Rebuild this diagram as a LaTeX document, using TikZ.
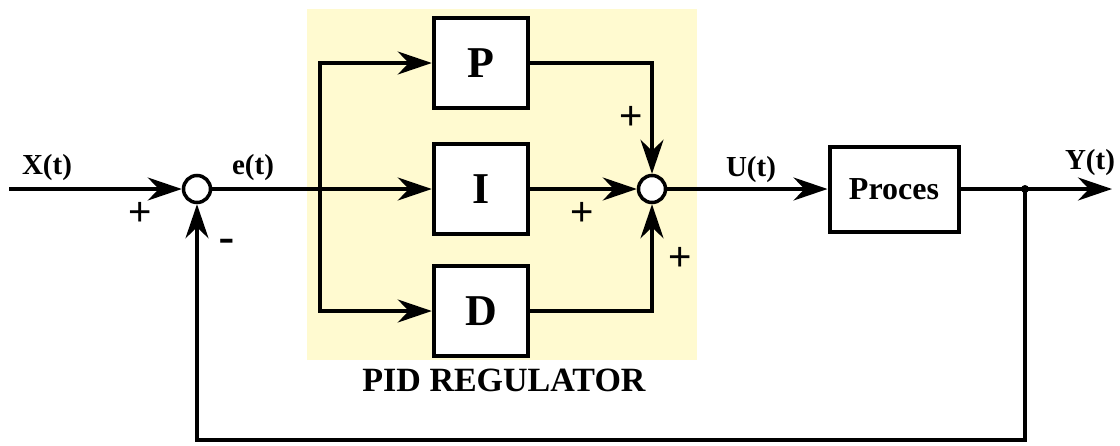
\documentclass[tikz,border=0pt]{standalone}
\usepackage{fontspec}
\setmainfont{Liberation Serif}
\newfontfamily\signfont{Liberation Sans}
\usetikzlibrary{arrows.meta}
\definecolor{pidyellow}{RGB}{255,250,208}
\begin{document}
\begin{tikzpicture}[x=1pt,y=-1pt, line width=3.5pt,
 blk/.style={draw, fill=white, line width=4.5pt, minimum width=94pt, minimum height=90pt, inner sep=0pt, font=\fontsize{44}{44}\selectfont\bfseries},
 procbox/.style={draw, fill=white, line width=4pt, minimum width=129pt, minimum height=85pt, inner sep=0pt, font=\fontsize{32}{32}\selectfont\bfseries},
 sumc/.style={draw, circle, fill=white, minimum size=27pt, inner sep=0pt, line width=3.5pt},
 sig/.style={font=\fontsize{29}{29}\selectfont\bfseries, inner sep=0pt},
 sgn/.style={font=\signfont\fontsize{40}{40}\selectfont, inner sep=0pt},
 arr/.style={-{Stealth[length=34pt,width=23pt,inset=11pt]}},
]
\useasboundingbox (0,0) rectangle (1120,445);
\fill[pidyellow] (307,9) rectangle (697,360);

\node[sgn] (m1) at (227,247) {\fontsize{50}{50}\selectfont -};

\node[sumc] (s1) at (197,189) {};
\node[sumc] (s2) at (652,189) {};
\node[blk] (P) at (481,63) {P};
\node[blk] (I) at (481,189) {I};
\node[blk] (D) at (481,311) {D};
\node[procbox] (proc) at (894,189) {Proces};

\coordinate (in) at (9,189);
\coordinate (br) at (320,189);
\coordinate (tap) at (1025,189);
\coordinate (out) at (1112,189);
\coordinate (fb) at (197,440);

\draw[arr] (in) -- (s1);
\draw (s1) -- (br);
\fill (br) circle (3);
\draw[arr] (br) -- (I);
\draw[arr] (br) |- (P);
\draw[arr] (br) |- (D);
\draw[arr] (P) -| (s2);
\draw[arr] (I) -- (s2);
\draw[arr] (D) -| (s2);
\draw[arr] (s2) -- (proc);
\draw[arr] (proc) -- (out);
\fill (tap) circle (4);
\draw[arr] (tap) |- (fb) -- (s1);

\node[sig] (lx) at (47,168) {X(t)};
\node[sig] (le) at (253,168) {e(t)};
\node[sig] (lu) at (751,170) {U(t)};
\node[sig] (ly) at (1090,163) {Y(t)};

\node[sgn] (p1) at (140,214) {+};
\node[sgn] (p2) at (631,118) {+};
\node[sgn] (p3) at (582,214) {+};
\node[sgn] (p4) at (680,259) {+};

\node[font=\fontsize{34}{34}\selectfont\bfseries, inner sep=0pt] (pid) at (504,380) {PID REGULATOR};
\end{tikzpicture}
\end{document}
